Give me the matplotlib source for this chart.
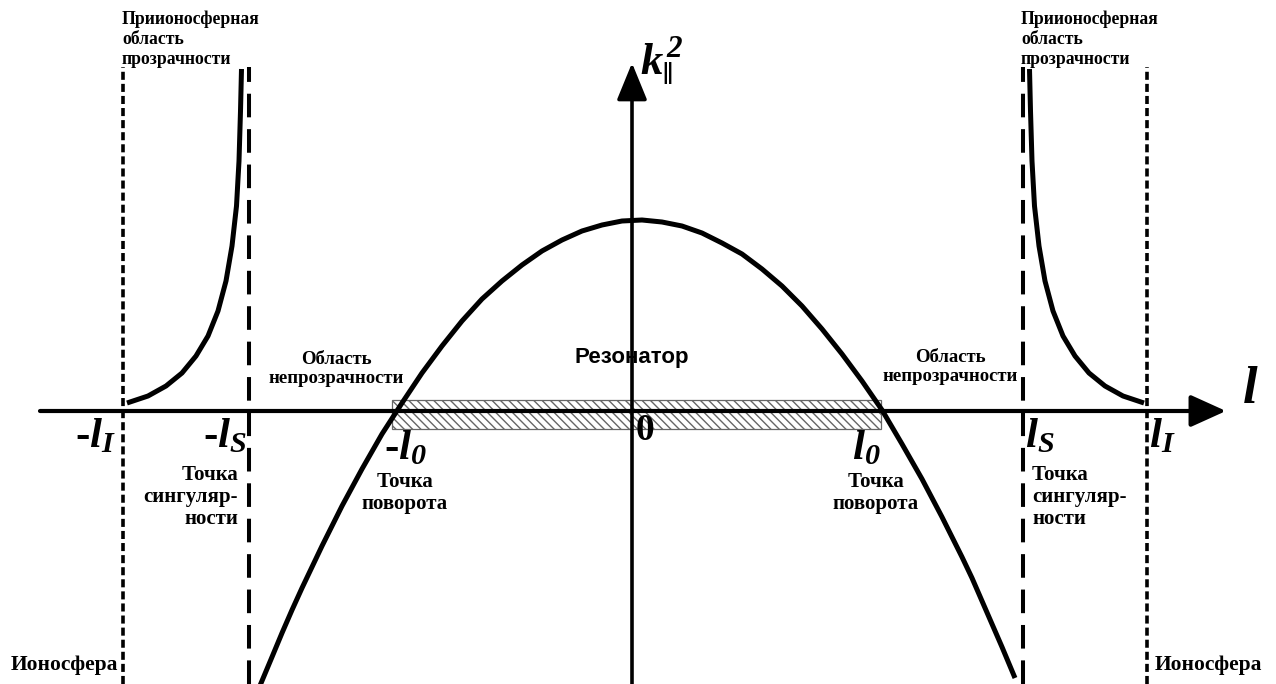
import matplotlib
matplotlib.use("Agg")
import matplotlib.pyplot as plt
from matplotlib.patches import Rectangle

plt.rcParams['font.family'] = ['Liberation Serif', 'DejaVu Serif']
plt.rcParams['mathtext.fontset'] = 'custom'
plt.rcParams['mathtext.rm'] = 'Liberation Serif:bold'
plt.rcParams['mathtext.it'] = 'Liberation Serif:italic:bold'
plt.rcParams['mathtext.bf'] = 'Liberation Serif:bold'
plt.rcParams['mathtext.bfit'] = 'Liberation Serif:italic:bold'
plt.rcParams['lines.scale_dashes'] = False
plt.rcParams['lines.solid_capstyle'] = 'butt'
plt.rcParams['hatch.color'] = '#444444'

# characteristic points on the l axis
l_I_left, l_I_right = -509, 515      # ionosphere boundaries
l_S_left, l_S_right = -383, 391      # singularity points
l0_left, l0_right = -240, 249        # turning points
top_level = 344                      # upper end of the vertical guides

# k_par^2 inside the resonator (turning points at k^2 = 0)
par_l = [-373, -360, -350, -340, -330, -320, -310, -290, -270, -250, -230, -210, -190, -170, -150,
         -130, -110, -90, -70, -50, -30, -10, 10, 30, 50, 70, 90, 110, 130,
         150, 170, 190, 210, 230, 250, 270, 290, 310, 320, 330, 340, 350, 360, 370, 383]
par_k = [-277, -246, -222, -199, -177, -156, -135, -95, -58, -23, 8, 38, 65, 90, 112,
         130, 146, 160, 171, 180, 186, 190, 191, 189, 185, 178, 168, 157, 142,
         125, 105, 82, 57, 30, 1, -33, -68, -106, -126, -146, -167, -190, -213, -236, -267]

# k_par^2 in the near-ionosphere transparency regions
left_l = [-505, -484, -466, -450, -436, -424, -414, -406, -400, -395.5, -393, -391.5, -390.5]
left_k = [8, 15, 25, 38, 55, 75, 100, 130, 165, 205, 250, 300, 342]
right_l = [512, 491, 473, 457, 443, 431, 421, 413, 407, 402.5, 400, 398.5, 397.5]
right_k = left_k

fig = plt.figure(figsize=(12.76, 6.84), dpi=100)
ax = fig.add_axes([0, 0, 1, 1])
ax.set_xlim(-632, 644)
ax.set_ylim(-273, 411)
ax.axis('off')

# axes with arrows
ax.annotate('', xy=(594, 0), xytext=(-592, 0),
            arrowprops=dict(arrowstyle='-|>,head_length=0.42,head_width=0.19',
                            mutation_scale=52, lw=3.0, color='black',
                            shrinkA=0, shrinkB=0))
ax.annotate('', xy=(0, 348), xytext=(0, -273),
            arrowprops=dict(arrowstyle='-|>,head_length=0.44,head_width=0.18',
                            mutation_scale=52, lw=2.6, color='black',
                            shrinkA=0, shrinkB=0))

# resonator region between the turning points
ax.add_patch(Rectangle((l0_left, -18), l0_right - l0_left, 29, facecolor='none',
                       edgecolor='#666666', lw=0.9, hatch='\\\\\\\\', zorder=1))

# vertical guides
for x in (l_I_left, l_I_right):
    ax.plot([x, x], [-273, top_level], color='black', lw=2.6, dashes=(5.8, 2.9))
for x in (l_S_left, l_S_right):
    ax.plot([x, x], [-273, top_level], color='black', lw=2.9, dashes=(17, 8.5))

for xs, ys in ((par_l, par_k), (left_l, left_k), (right_l, right_k)):
    ax.plot(xs, ys, color='black', lw=3.6, solid_joinstyle='round')

# axis labels
ax.text(618, 21, r'$\mathbfit{l}$', fontsize=38, ha='center', va='center')
ax.text(8, 350, r'$\mathbfit{k}_{\|}^{\,\mathbfit{2}}$', fontsize=32, ha='left', va='center')
ax.text(13, -20, '0', fontsize=27, fontweight='bold', ha='center', va='center')

big = 31
ax.text(-536, -26, r'-$\mathbfit{l}_{\mathbfit{I}}$', fontsize=big, fontweight='bold', ha='center', va='center')
ax.text(-407, -26, r'-$\mathbfit{l}_{\mathbfit{S}}$', fontsize=big, fontweight='bold', ha='center', va='center')
ax.text(-226, -38, r'-$\mathbfit{l}_{\mathbfit{0}}$', fontsize=big, fontweight='bold', ha='center', va='center')
ax.text(234, -38, r'$\mathbfit{l}_{\mathbfit{0}}$', fontsize=big, fontweight='bold', ha='center', va='center')
ax.text(408, -26, r'$\mathbfit{l}_{\mathbfit{S}}$', fontsize=big, fontweight='bold', ha='center', va='center')
ax.text(530, -26, r'$\mathbfit{l}_{\mathbfit{I}}$', fontsize=big, fontweight='bold', ha='center', va='center')

# region captions
top_caption = 'Приионосферная\nобласть\nпрозрачности'
ax.text(-510, 400, top_caption, fontsize=12.7, fontweight='bold', ha='left', va='top', linespacing=1.2)
ax.text(389, 400, top_caption, fontsize=12.7, fontweight='bold', ha='left', va='top', linespacing=1.2)

opaque = 'Область\nнепрозрачности'
ax.text(-296, 42, opaque, fontsize=13.5, fontweight='bold', ha='center', va='center', linespacing=1.2)
ax.text(318, 44, opaque, fontsize=13.5, fontweight='bold', ha='center', va='center', linespacing=1.2)

ax.text(0, 54, 'Резонатор', fontsize=16, fontweight='bold', family='Liberation Sans',
        ha='center', va='center')

sing = 'Точка\nсингуляр-\nности'
ax.text(-394, -86, sing, fontsize=15, fontweight='bold', ha='right', va='center', multialignment='right', linespacing=1.1)
ax.text(400, -86, sing, fontsize=15, fontweight='bold', ha='left', va='center', multialignment='left', linespacing=1.1)

turn = 'Точка\nповорота'
ax.text(-227, -82, turn, fontsize=15, fontweight='bold', ha='center', va='center', linespacing=1.15)
ax.text(244, -82, turn, fontsize=15, fontweight='bold', ha='center', va='center', linespacing=1.15)

ax.text(-514, -254, 'Ионосфера', fontsize=15.5, fontweight='bold', ha='right', va='center')
ax.text(523, -254, 'Ионосфера', fontsize=15.5, fontweight='bold', ha='left', va='center')

fig.savefig('out.png', dpi=100)
